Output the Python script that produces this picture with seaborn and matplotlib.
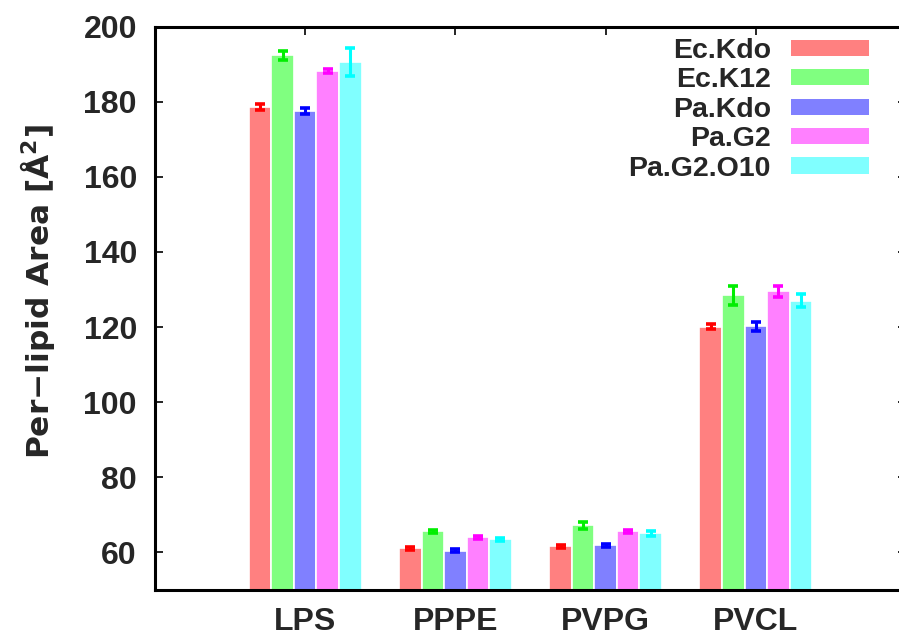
import numpy as np
import pandas as pd
import matplotlib
matplotlib.use("Agg")
import matplotlib.pyplot as plt
import matplotlib.patches as mpatches
import seaborn as sns

# Lipid types on the x axis and membrane systems as hue
lipids = ["LPS", "PPPE", "PVPG", "PVCL"]
systems = ["Ec.Kdo", "Ec.K12", "Pa.Kdo", "Pa.G2", "Pa.G2.O10"]

# Mean per-lipid area (Å^2) for each system, in lipid order
ec_kdo = [178.6, 61.1, 61.6, 120.1]
ec_k12 = [192.4, 65.6, 67.2, 128.4]
pa_kdo = [177.5, 60.5, 61.9, 120.2]
pa_g2 = [188.2, 64.0, 65.6, 129.5]
pa_g2_o10 = [190.6, 63.5, 65.1, 127.0]

# Standard deviations
ec_kdo_err = [0.9, 0.4, 0.4, 0.7]
ec_k12_err = [1.2, 0.5, 1.0, 2.5]
pa_kdo_err = [0.9, 0.4, 0.4, 1.2]
pa_g2_err = [0.5, 0.4, 0.5, 1.4]
pa_g2_o10_err = [3.8, 0.4, 0.6, 1.7]

bar_colors = ["#ff8080", "#80ff80", "#8080ff", "#ff80ff", "#80ffff"]
err_colors = ["#ff0000", "#00ee00", "#0000ff", "#ff00ff", "#00ffff"]

means = [ec_kdo, ec_k12, pa_kdo, pa_g2, pa_g2_o10]
errs = [ec_kdo_err, ec_k12_err, pa_kdo_err, pa_g2_err, pa_g2_o10_err]

df = pd.DataFrame({
    "lipid": [l for s in systems for l in lipids],
    "system": [s for s in systems for _ in lipids],
    "area": [v for m in means for v in m],
})

sns.set_theme(style="white")
plt.rcParams["font.family"] = ["Liberation Sans", "DejaVu Sans"]
plt.rcParams["font.weight"] = "bold"

fig = plt.figure(figsize=(8.99, 6.39), dpi=100)
ax = fig.add_axes([0.1724, 0.0767, 0.8354, 0.8818])

sns.barplot(data=df, x="lipid", y="area", hue="system", order=lipids,
            hue_order=systems, palette=bar_colors, width=0.75,
            errorbar=None, edgecolor="white", linewidth=1.2,
            saturation=1, legend=False, ax=ax)

# Error bars centred on each bar
for container, err, col in zip(ax.containers, errs, err_colors):
    xs = [p.get_x() + p.get_width() / 2 for p in container.patches]
    ys = [p.get_height() for p in container.patches]
    ax.errorbar(xs, ys, yerr=err, fmt="none", ecolor=col,
                elinewidth=2.2, capsize=3.4, capthick=2.6, zorder=5)

ax.set_xlim(-1, 4)
ax.set_ylim(50, 200)
ax.set_yticks(np.arange(60, 201, 20))
ax.set_xlabel("")
ax.set_ylabel("Per\u2212lipid Area [Å$^\\mathbf{2}$]", fontsize=22.5,
              fontweight="bold", family=["DejaVu Sans"])
ax.yaxis.set_label_coords(-0.13, 0.53)

for side in ["left", "right", "top", "bottom"]:
    ax.spines[side].set_visible(True)
    ax.spines[side].set_color("black")
    ax.spines[side].set_linewidth(2.2)

ax.tick_params(axis="y", which="both", direction="in", left=True, right=True,
               length=6, width=1.2, labelsize=23, pad=13, color="black")
ax.tick_params(axis="x", which="both", direction="in", bottom=False, top=True,
               length=6, width=1.2, labelsize=23, pad=12, color="black")
for lab in ax.get_xticklabels() + ax.get_yticklabels():
    lab.set_fontweight("bold")

handles = [mpatches.Patch(facecolor=c, edgecolor="none", label=s)
           for s, c in zip(systems, bar_colors)]
leg = ax.legend(handles=handles, loc="upper right", frameon=False,
                markerfirst=False, fontsize=20.5, handlelength=2.75,
                handleheight=0.5, handletextpad=0.7, labelspacing=0.12,
                borderaxespad=0.0, bbox_to_anchor=(0.966, 1.0))
for t in leg.get_texts():
    t.set_fontweight("bold")

fig.savefig("out.png", dpi=100)
